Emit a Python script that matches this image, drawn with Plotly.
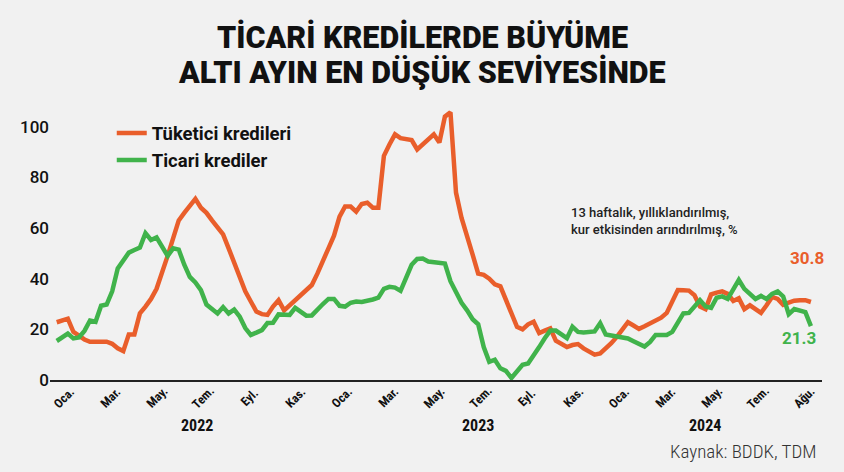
import pandas as pd
import plotly.graph_objects as go

# Weekly data (BDDK, Friday), 13-week annualised growth, FX adjusted, %
start_date = "2021-12-31"

tuketici = [
    22.8, 23.5, 24.2, 19.0, 17.4, 16.0, 15.1, 15.1, 15.1, 15.1,
    14.3, 12.5, 11.4, 18.0, 18.0, 26.3, 29.0, 32.0, 36.0, 42.0,
    49.0, 56.0, 63.0, 66.0, 69.0, 71.5, 68.0, 66.0, 63.0, 60.5,
    57.5, 52.0, 46.0, 40.0, 35.0, 31.0, 27.0, 26.0, 25.7, 29.0,
    31.5, 27.5, 29.5, 31.5, 33.5, 35.5, 37.5, 42.0, 46.5, 52.0,
    57.0, 64.5, 68.5, 68.5, 66.5, 69.5, 70.0, 68.0, 68.0, 88.5,
    93.0, 97.0, 95.5, 95.0, 94.7, 91.0, 93.0, 95.5, 97.0, 93.8,
    104.0, 105.7, 74.0, 64.0, 56.0, 49.5, 42.0, 41.5, 40.0, 37.8,
    37.0, 32.0, 27.0, 21.0, 20.0, 22.0, 23.0, 18.5, 19.5, 20.4,
    15.5, 14.0, 13.0, 13.8, 14.2, 12.5, 11.0, 10.0, 10.5, 12.3,
    14.5, 17.0, 20.0, 22.8, 21.5, 20.2, 21.2, 22.3, 23.3, 24.6,
    26.5, 31.0, 35.5, 35.4, 35.3, 33.5, 29.0, 28.0, 33.8, 34.5,
    35.0, 34.0, 31.2, 32.3, 28.0, 29.5, 28.0, 26.5, 29.5, 32.8,
    32.0, 29.7, 30.6, 31.3, 31.5, 31.5, 30.8,
]

ticari = [
    15.4, 16.8, 18.3, 16.4, 16.8, 19.4, 23.5, 23.0, 29.3, 29.8,
    35.0, 44.0, 47.0, 50.3, 51.3, 52.3, 58.0, 55.3, 56.3, 52.8,
    49.0, 52.0, 51.5, 45.5, 40.7, 38.5, 35.5, 29.8, 27.8, 26.3,
    28.8, 26.3, 27.8, 25.0, 20.5, 17.8, 18.7, 19.7, 22.5, 22.6,
    25.9, 25.8, 25.7, 28.5, 27.0, 25.4, 25.5, 28.0, 30.0, 32.0,
    32.0, 29.3, 29.0, 30.5, 31.0, 30.8, 31.2, 31.8, 32.5, 36.0,
    36.8, 36.5, 35.2, 40.0, 45.5, 47.8, 48.0, 46.8, 46.5, 46.5,
    46.0, 39.0, 35.0, 30.5, 27.5, 24.0, 22.0, 13.0, 7.2, 8.0,
    4.6, 3.6, 0.8, 3.5, 6.0, 6.5, 9.5, 13.0, 16.5, 19.5,
    19.5, 18.0, 16.5, 21.0, 19.0, 18.8, 19.0, 19.2, 22.4, 18.0,
    17.6, 17.3, 17.0, 16.4, 15.3, 14.2, 13.2, 15.0, 17.8, 17.8,
    17.8, 19.0, 23.0, 26.3, 26.5, 29.0, 31.5, 29.0, 28.5, 32.5,
    33.0, 32.0, 36.0, 39.5, 36.0, 33.8, 32.0, 33.2, 32.0, 34.0,
    35.0, 33.0, 26.0, 28.0, 27.2, 26.8, 21.3,
]

# month labels sit at even steps along the axis, as in the original
month_labels = [
    "Oca.", "Mar.", "May.", "Tem.", "Eyl.", "Kas.",
    "Oca.", "Mar.", "May.", "Tem.", "Eyl.", "Kas.",
    "Oca.", "Mar.", "May.", "Tem.", "Ağu.",
]
month_first = "2022-01-09"
month_step = "1401h"

year_dates = ["2022-06-26", "2023-06-16", "2024-03-28"]
year_labels = ["2022", "2023", "2024"]

title_lines = ["TİCARİ KREDİLERDE BÜYÜME", "ALTI AYIN EN DÜŞÜK SEVİYESİNDE"]

dates = pd.date_range(start_date, periods=len(tuketici), freq="7D")
month_pos = pd.date_range(month_first, periods=len(month_labels), freq=month_step)

ORANGE = "#e95e2b"
GREEN = "#40b34b"
BG = "#f1f1f1"
COND = "Roboto Condensed, Liberation Sans Narrow, Roboto, sans-serif"

fig = go.Figure()

fig.add_trace(go.Scatter(
    x=dates, y=tuketici, name="Tüketici kredileri", mode="lines",
    line=dict(color=ORANGE, width=4.5),
))
fig.add_trace(go.Scatter(
    x=dates, y=ticari, name="Ticari krediler", mode="lines",
    line=dict(color=GREEN, width=4.5),
))

annotations = []

# title, two lines
for text, shift in zip(title_lines, [72, 37]):
    annotations.append(dict(
        x=0.5, xref="paper", y=1, yref="paper", yshift=shift, xshift=-14,
        text=text, showarrow=False, xanchor="center", yanchor="middle",
        font=dict(family="Roboto", size=30.5, color="#111", weight=900),
    ))

# month labels, rotated
for d, lab in zip(month_pos, month_labels):
    annotations.append(dict(
        x=d, xref="x", y=0, yref="paper", yshift=-17,
        text=lab, showarrow=False, textangle=-45,
        xanchor="center", yanchor="middle",
        font=dict(family=COND, size=12.5, color="#111", weight="bold"),
    ))

# year labels
for d, lab in zip(year_dates, year_labels):
    annotations.append(dict(
        x=d, xref="x", y=0, yref="paper", yshift=-45,
        text=lab, showarrow=False,
        xanchor="center", yanchor="middle",
        font=dict(family=COND, size=16, color="#111", weight="bold"),
    ))

# end value labels
annotations.append(dict(
    x=dates[-1], y=tuketici[-1], text=f"{tuketici[-1]:.1f}", showarrow=False,
    xanchor="center", yanchor="middle", xshift=-4, yshift=44,
    font=dict(family="Roboto", size=17, color=ORANGE, weight="bold"),
))
annotations.append(dict(
    x=dates[-1], y=ticari[-1], text=f"{ticari[-1]:.1f}", showarrow=False,
    xanchor="center", yanchor="middle", xshift=-12, yshift=-12,
    font=dict(family="Roboto", size=17, color=GREEN, weight="bold"),
))

# note
annotations.append(dict(
    x=0.672, xref="paper", y=0.585, yref="paper",
    text="13 haftalık, yıllıklandırılmış,<br>kur etkisinden arındırılmış, %",
    showarrow=False, xanchor="left", yanchor="middle", align="left",
    font=dict(family="Roboto", size=13, color="#222", weight=500),
))

# source
annotations.append(dict(
    x=1, xref="paper", y=0, yref="paper", yshift=-71, xshift=-4,
    text="Kaynak: BDDK, TDM", showarrow=False,
    xanchor="right", yanchor="middle",
    font=dict(family=COND, size=19, color="#333", weight=300),
))

fig.update_layout(
    width=844,
    height=472,
    paper_bgcolor=BG,
    plot_bgcolor=BG,
    margin=dict(l=50, r=22, t=109, b=92),
    showlegend=True,
    legend=dict(
        x=0.08, y=0.98, xanchor="left", yanchor="top",
        bgcolor="rgba(0,0,0,0)", itemwidth=30,
        font=dict(family="Roboto", size=18.5, color="#111", weight="bold"),
    ),
    annotations=annotations,
)

fig.update_xaxes(
    type="date",
    range=["2021-12-22 12:00", "2024-08-23"],
    showgrid=False, zeroline=False,
    showticklabels=False, ticks="",
    showline=True, linecolor="#222", linewidth=1.5,
)
fig.update_yaxes(
    range=[0, 107],
    tickvals=[0, 20, 40, 60, 80, 100],
    showgrid=False, zeroline=False, showline=False, ticks="",
    tickfont=dict(family="Roboto", size=17, color="#111", weight=500),
)

# drop the default page margin so the figure sits at the window corner
fig.write_html(
    "out.html",
    config={"displayModeBar": False},
    post_script="document.body.style.margin='0';",
)
